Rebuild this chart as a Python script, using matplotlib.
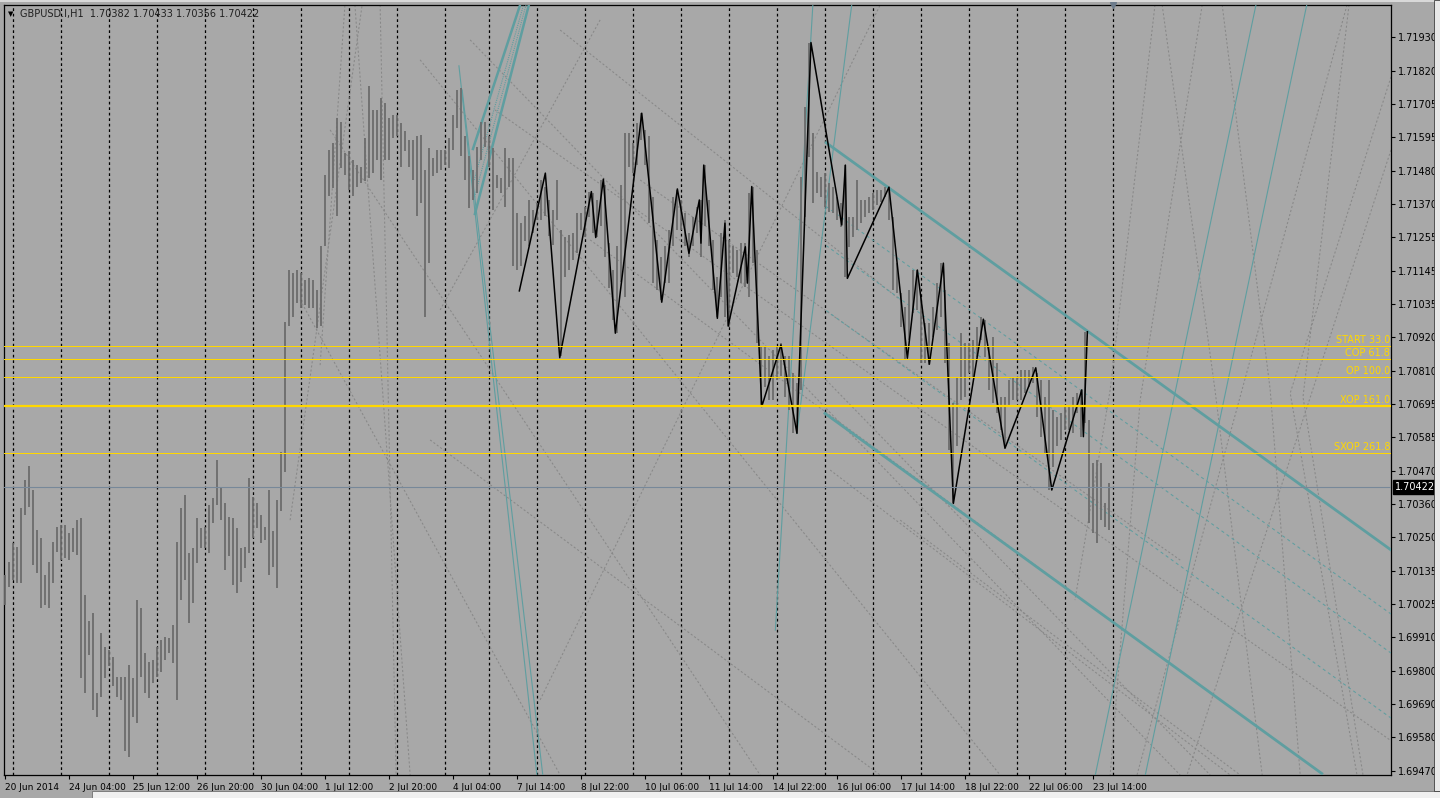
import numpy as np
import matplotlib.pyplot as plt
from matplotlib.patches import Rectangle

# GBPUSD H1 chart (bars merged in pairs -> 2h bars)
symbol = 'GBPUSD.I,H1  1.70382 1.70433 1.70356 1.70422'
last_price = 1.70422

highs = [
    1.70127, 1.70172, 1.70233, 1.70222, 1.70351, 1.70446, 1.70493, 1.70412, 1.70278, 1.70250,
    1.70127, 1.70172, 1.70239, 1.70289, 1.70295, 1.70295, 1.70267, 1.70284, 1.70312, 1.70317,
    1.70060, 1.69971, 1.69999, 1.69730, 1.69932, 1.69887, 1.69876, 1.69853, 1.69786, 1.69786,
    1.69786, 1.69825, 1.69781, 1.70043, 1.70015, 1.69864, 1.69836, 1.69842, 1.69887, 1.69909,
    1.69920, 1.69915, 1.69959, 1.70239, 1.70351, 1.70395, 1.70200, 1.70217, 1.70317, 1.70284,
    1.70289, 1.70362, 1.70384, 1.70513, 1.70418, 1.70368, 1.70323, 1.70317, 1.70284, 1.70217,
    1.70222, 1.70451, 1.70390, 1.70368, 1.70328, 1.70289, 1.70412, 1.70273, 1.70379, 1.70541,
    1.70976,
    1.71151, 1.71140, 1.71151, 1.71140, 1.71117, 1.71123, 1.71117, 1.71084, 1.71229, 1.71469,
    1.71553, 1.71576, 1.71659, 1.71648, 1.71542, 1.71548, 1.71520, 1.71503, 1.71497, 1.71592,
    1.71766, 1.71687, 1.71687, 1.71726, 1.71710, 1.71659, 1.71671, 1.71671, 1.71643, 1.71615,
    1.71587, 1.71587, 1.71598, 1.71603, 1.71486, 1.71559, 1.71525, 1.71553, 1.71553, 1.71553,
    1.71592, 1.71671, 1.71754, 1.71760, 1.71598, 1.71531, 1.71486, 1.71564, 1.71648, 1.71648,
    1.71598, 1.71559, 1.71469, 1.71458, 1.71559, 1.71525, 1.71525, 1.71341, 1.71307, 1.71330,
    1.71385, 1.71352, 1.71374, 1.71453, 1.71430, 1.71385, 1.71352, 1.71453,
    1.71284, 1.71262, 1.71268, 1.71273, 1.71340, 1.71340, 1.71363, 1.71413, 1.71407, 1.71385,
    1.71452, 1.71435, 1.71240, 1.71150, 1.71229, 1.71435, 1.71609, 1.71609, 1.71575, 1.71642,
    1.71676, 1.71620, 1.71598, 1.71396, 1.71251, 1.71195, 1.71229, 1.71284, 1.71396, 1.71419,
    1.71385, 1.71340, 1.71273, 1.71329, 1.71363, 1.71385, 1.71502, 1.71385, 1.71251, 1.71128,
    1.71273, 1.71318, 1.71251, 1.71229, 1.71217, 1.71240, 1.71240, 1.71407, 1.71430, 1.71217,
    1.70893, 1.70893, 1.70860, 1.70882, 1.70893, 1.70904, 1.70860, 1.70860, 1.70804, 1.70770,
    1.71463, 1.71698, 1.71912,
    1.71608, 1.71480, 1.71463, 1.71474, 1.71441, 1.71430, 1.71396, 1.71374, 1.71502, 1.71329,
    1.71329, 1.71452, 1.71385, 1.71385, 1.71396, 1.71407, 1.71418, 1.71418, 1.71430, 1.71430,
    1.71329, 1.71172, 1.71072, 1.71027, 1.71083, 1.71150, 1.71150, 1.71061, 1.70971, 1.70971,
    1.71027, 1.71105, 1.71172, 1.71083, 1.70904, 1.70703, 1.70792, 1.70938, 1.70904, 1.70904,
    1.70915, 1.70960, 1.70994, 1.70982, 1.70893, 1.70926, 1.70837, 1.70725, 1.70725, 1.70781,
    1.70792, 1.70792, 1.70815, 1.70815, 1.70815, 1.70826, 1.70804, 1.70781, 1.70725, 1.70781,
    1.70681, 1.70658, 1.70669, 1.70692, 1.70692, 1.70725, 1.70736, 1.70748, 1.70943, 1.70647,
    1.70502, 1.70513, 1.70502, 1.70367, 1.70435,
]
lows = [
    1.70027, 1.70088, 1.70110, 1.70099, 1.70099, 1.70328, 1.70354, 1.70161, 1.70133, 1.70015,
    1.70027, 1.70015, 1.70099, 1.70205, 1.70177, 1.70183, 1.70177, 1.70205, 1.70194, 1.69781,
    1.69730, 1.69859, 1.69674, 1.69652, 1.69719, 1.69781, 1.69820, 1.69753, 1.69719, 1.69708,
    1.69535, 1.69518, 1.69652, 1.69630, 1.69786, 1.69730, 1.69714, 1.69764, 1.69786, 1.69803,
    1.69842, 1.69864, 1.69831, 1.69708, 1.70043, 1.70110, 1.69965, 1.70032, 1.70166, 1.70217,
    1.70217, 1.70200, 1.70300, 1.70362, 1.70312, 1.70144, 1.70189, 1.70094, 1.70066, 1.70105,
    1.70150, 1.70200, 1.70250, 1.70284, 1.70233, 1.70245, 1.70127, 1.70155, 1.70082, 1.70340,
    1.70472,
    1.70961, 1.70994, 1.71039, 1.71022, 1.71033, 1.71022, 1.71022, 1.70955, 1.70961, 1.71229,
    1.71397, 1.71425, 1.71330, 1.71492, 1.71469, 1.71419, 1.71397, 1.71430, 1.71441, 1.71447,
    1.71458, 1.71475, 1.71520, 1.71453, 1.71520, 1.71520, 1.71592, 1.71598, 1.71497, 1.71548,
    1.71497, 1.71453, 1.71330, 1.71374, 1.70994, 1.71173, 1.71464, 1.71475, 1.71486, 1.71503,
    1.71492, 1.71553, 1.71626, 1.71531, 1.71453, 1.71358, 1.71385, 1.71408, 1.71520, 1.71564,
    1.71497, 1.71352, 1.71425, 1.71408, 1.71363, 1.71430, 1.71162, 1.71151, 1.71162, 1.71246,
    1.71229, 1.71274, 1.71318, 1.71318, 1.71330, 1.71263, 1.71235, 1.71318,
    1.70860, 1.71128, 1.71150, 1.71184, 1.71206, 1.71284, 1.71262, 1.71329, 1.71273, 1.71262,
    1.71296, 1.71195, 1.71089, 1.70983, 1.70938, 1.71111, 1.71061, 1.71497, 1.71475, 1.71502,
    1.71586, 1.71502, 1.71307, 1.71106, 1.71083, 1.71050, 1.71106, 1.71106, 1.71229, 1.71284,
    1.71284, 1.71229, 1.71195, 1.71229, 1.71273, 1.71195, 1.71296, 1.71229, 1.71083, 1.70994,
    1.71061, 1.70994, 1.70960, 1.71139, 1.71128, 1.71106, 1.71094, 1.71061, 1.71173, 1.70904,
    1.70692, 1.70759, 1.70714, 1.70714, 1.70781, 1.70793, 1.70725, 1.70681, 1.70603, 1.70603,
    1.70748, 1.71329, 1.71529,
    1.71374, 1.71407, 1.71396, 1.71363, 1.71346, 1.71340, 1.71318, 1.71295, 1.71128, 1.71228,
    1.71262, 1.71284, 1.71307, 1.71329, 1.71340, 1.71351, 1.71368, 1.71379, 1.71396, 1.71318,
    1.71083, 1.71072, 1.70960, 1.70848, 1.70915, 1.71005, 1.71016, 1.70837, 1.70837, 1.70831,
    1.70926, 1.70949, 1.70994, 1.70837, 1.70546, 1.70367, 1.70558, 1.70714, 1.70725, 1.70804,
    1.70792, 1.70859, 1.70915, 1.70859, 1.70748, 1.70703, 1.70669, 1.70613, 1.70558, 1.70692,
    1.70714, 1.70714, 1.70714, 1.70736, 1.70759, 1.70770, 1.70658, 1.70591, 1.70535, 1.70412,
    1.70490, 1.70558, 1.70580, 1.70613, 1.70613, 1.70602, 1.70669, 1.70591, 1.70636, 1.70300,
    1.70267, 1.70233, 1.70312, 1.70289, 1.70278,
]

# zigzag swing points (bar, price)
zz_bar = [128.5, 135.0, 138.6, 146.5, 147.6, 149.5, 152.5, 159.1, 164.1, 168.0,
          170.9, 173.5, 173.9, 174.6, 178.0, 179.9, 180.7, 185.0, 185.5, 186.6,
          189.1, 193.9, 197.9, 201.4, 209.1, 210.0, 210.5, 220.9, 225.5, 228.0,
          231.0, 234.5, 237.0, 244.5, 249.9, 257.6, 261.6, 269.1, 269.5, 270.5]
zz_price = [1.71080, 1.71475, 1.70856, 1.71413, 1.71259, 1.71455, 1.70938, 1.71676, 1.71042, 1.71422,
            1.71206, 1.71385, 1.71240, 1.71502, 1.70988, 1.71307, 1.70962, 1.71228, 1.71106, 1.71430,
            1.70692, 1.70899, 1.70602, 1.71913, 1.71301, 1.71502, 1.71122, 1.71428, 1.70854, 1.71150,
            1.70834, 1.71173, 1.70367, 1.70985, 1.70552, 1.70822, 1.70412, 1.70748, 1.70591, 1.70943]

# expansion levels
level_names = ['START 33.0', 'COP 61.8', 'OP 100.0', 'XOP 161.0', 'SXOP 261.8']
level_prices = [1.70896, 1.70851, 1.70790, 1.70694, 1.70535]

# channel (bar, price) pairs
chan_upper = [(205.2, 1.71577), (346.4, 1.70211)]
chan_lower = [(204.9, 1.70669), (329.1, 1.69461)]
chan_mid = [[(205.2, 1.71363), (346.4, 1.69996)],
            [(205.2, 1.71232), (346.4, 1.69865)],
            [(205.2, 1.71014), (346.4, 1.69647)]]

# steep teal lines
teal_thin = [[(113.4, 1.71835), (133.3, 1.69406)],
             [(114.2, 1.71754), (134.8, 1.69406)],
             [(192.5, 1.69942), (201.95, 1.72056)],
             [(197.9, 1.70602), (211.75, 1.72056)],
             [(271.7, 1.69406), (312.9, 1.72056)],
             [(284.2, 1.69406), (325.6, 1.72056)]]
teal_thick = [[(116.9, 1.71556), (129.1, 1.72056)],
              [(117.4, 1.71338), (131.2, 1.72056)]]
teal_dot = [[(117.2, 1.71452), (129.9, 1.72056)],
            [(117.3, 1.71395), (130.5, 1.72056)]]

# grey dashed helper lines
grey_lines = [
    [(87.4, 1.72039), (101.2, 1.69456)],
    [(93.7, 1.72039), (97.7, 1.69456)],
    [(78.7, 1.70831), (84.9, 1.72039)],
    [(71.2, 1.70311), (89.2, 1.72039)],
    [(81.2, 1.71620), (188.7, 1.69456)],
    [(103.7, 1.71855), (248.7, 1.69456)],
    [(116.2, 1.71922), (293.7, 1.69456)],
    [(73.7, 1.71050), (138.7, 1.69456)],
    [(122.4, 1.71687), (346.2, 1.69573)],
    [(108.7, 1.71016), (148.7, 1.71989)],
    [(133.7, 1.69708), (218.7, 1.72039)],
    [(146.2, 1.71251), (276.2, 1.69976)],
    [(158.7, 1.71452), (293.7, 1.70177)],
    [(106.2, 1.70580), (218.7, 1.69456)],
    [(205.2, 1.70781), (301.2, 1.69456)],
    [(138.7, 1.71955), (223.7, 1.71050)],
    [(206.2, 1.70479), (306.2, 1.69456)],
    [(223.7, 1.70311), (308.7, 1.69456)],
    [(335.9, 1.72039), (324.4, 1.70724), (339.4, 1.69456)],
    [(346.4, 1.71798), (321.2, 1.70737), (337.9, 1.69456)],
    [(289.2, 1.72039), (302.4, 1.70748), (314.2, 1.69456)],
    [(287.4, 1.72039), (276.2, 1.70748), (267.4, 1.70043)],
    [(304.2, 1.72039), (316.2, 1.70748), (323.7, 1.69456)],
    [(335.4, 1.72039), (282.9, 1.69456)],
    [(346.4, 1.71553), (295.4, 1.69456)],
    [(299.2, 1.72039), (283.7, 1.70714), (276.2, 1.69456)],
]

date_labels = ['20 Jun 2014', '24 Jun 04:00', '25 Jun 12:00', '26 Jun 20:00', '30 Jun 04:00',
               '1 Jul 12:00', '2 Jul 20:00', '4 Jul 04:00', '7 Jul 14:00', '8 Jul 22:00',
               '10 Jul 06:00', '11 Jul 14:00', '14 Jul 22:00', '16 Jul 06:00', '17 Jul 14:00',
               '18 Jul 22:00', '22 Jul 06:00', '23 Jul 14:00']
price_labels = ['1.71930', '1.71820', '1.71705', '1.71595', '1.71480', '1.71370', '1.71255',
                '1.71145', '1.71035', '1.70920', '1.70810', '1.70695', '1.70585', '1.70470',
                '1.70360', '1.70250', '1.70135', '1.70025', '1.69910', '1.69800', '1.69690',
                '1.69580', '1.69470']

# day separators (bar index)
day_marks = list(range(2, 111, 12)) + list(range(121, 278, 12))

BG = '#a8a8a8'
TEAL = '#5f9ea0'
GOLD = '#ffd700'

fig = plt.figure(figsize=(14.4, 7.98), dpi=100)
fig.patch.set_facecolor(BG)
ax = fig.add_axes([4 / 1440, 1 - 775 / 798, 1387 / 1440, 770 / 798])
ax.set_facecolor(BG)
ax.set_xlim(-0.325, 346.4)
ax.set_ylim(1.69456, 1.72039)

for d in day_marks:
    ax.axvline(d, color='black', lw=0.9, dashes=(2.2, 2.2), zorder=1)

for pts in grey_lines:
    xs, ys = zip(*pts)
    ax.plot(xs, ys, color='#888888', lw=0.75, dashes=(2, 2), zorder=2)

for pts in chan_mid:
    xs, ys = zip(*pts)
    ax.plot(xs, ys, color=TEAL, lw=0.75, dashes=(3, 3), zorder=3)
for pts in teal_dot:
    xs, ys = zip(*pts)
    ax.plot(xs, ys, color=TEAL, lw=0.8, dashes=(1, 1), zorder=3)
for pts in teal_thin:
    xs, ys = zip(*pts)
    ax.plot(xs, ys, color=TEAL, lw=0.8, zorder=3)
for pts in teal_thick:
    xs, ys = zip(*pts)
    ax.plot(xs, ys, color=TEAL, lw=1.8, zorder=3)
for pts in (chan_upper, chan_lower):
    xs, ys = zip(*pts)
    ax.plot(xs, ys, color=TEAL, lw=2.0, zorder=3)

bars = np.arange(len(highs))
ax.vlines(bars, lows, highs, color='#6c6c6c', lw=1.3, zorder=4)

ax.plot(zz_bar, zz_price, color='black', lw=1.1, zorder=5)

for name, p in zip(level_names, level_prices):
    ax.axhline(p, color=GOLD, lw=1.6 if name.startswith('XOP') else 0.75, zorder=6)
    ax.text(346.2, p + 0.00004, name, color=GOLD, fontsize=7, ha='right', va='bottom', zorder=6)

ax.axhline(last_price, color='#778899', lw=0.8, zorder=6)
ax.annotate(f'{last_price:.5f}', xy=(1, last_price), xycoords=('axes fraction', 'data'),
            xytext=(2.5, 0), textcoords='offset points', color='white', fontsize=7,
            va='center', ha='left',
            bbox=dict(boxstyle='square,pad=0.2', fc='black', ec='black'), annotation_clip=False)

ax.plot([277], [1.72039], marker='v', color='#6c7b8b', ms=5, clip_on=False, zorder=7)

ax.yaxis.tick_right()
ax.set_yticks(np.linspace(1.71930, 1.69470, 23))
ax.set_yticklabels(price_labels)
ax.set_xticks([16 * k - 0.15 for k in range(len(date_labels))])
ax.set_xticklabels(date_labels)
for lbl in ax.get_xticklabels():
    lbl.set_horizontalalignment('left')
ax.tick_params(axis='y', direction='out', length=3, width=0.8, labelsize=7, pad=2, colors='black')
ax.tick_params(axis='x', direction='out', length=3, width=0.8, labelsize=6.5, pad=3, colors='black')
for sp in ax.spines.values():
    sp.set_color('black')
    sp.set_linewidth(0.9)

fig.text(8 / 1440, 1 - 14 / 798, '\u25bc', fontsize=5, color='black', va='center')
fig.text(20 / 1440, 1 - 14 / 798, symbol, fontsize=7, color='#202020', va='center')

# window chrome
fig.add_artist(Rectangle((92 / 1440, 0), 1348 / 1440, 7 / 798, transform=fig.transFigure,
                         fc='#f0f0f0', ec='#707070', lw=0.6))
fig.add_artist(Rectangle((0, 1 - 2 / 798), 1, 2 / 798, transform=fig.transFigure,
                         fc='#d8d8d8', ec='none'))
fig.add_artist(Rectangle((1434 / 1440, 7 / 798), 6 / 1440, 791 / 798, transform=fig.transFigure,
                         fc='#e8e8e8', ec='#404040', lw=0.6))

fig.savefig('out.png', dpi=100, facecolor=fig.get_facecolor())
